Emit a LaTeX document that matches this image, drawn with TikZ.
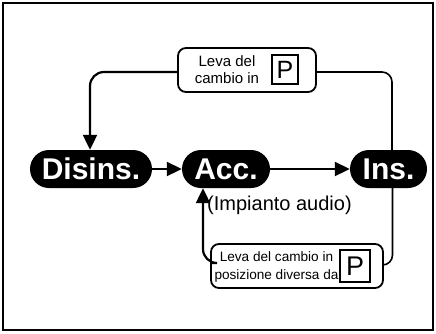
\documentclass[tikz,border=0pt]{standalone}
\usepackage{fontspec}
\setmainfont{Liberation Sans}
\usetikzlibrary{arrows.meta}
\tikzset{
  pill/.style={fill=black, text=white, rounded corners=19pt, minimum height=38pt, inner sep=0pt,
    font=\fontsize{30}{30}\selectfont\bfseries},
  labbox/.style={draw, line width=1.8pt, rounded corners=8pt, minimum height=44pt, inner sep=0pt},
  pbox/.style={draw, line width=1.6pt, inner sep=0pt},
  conn/.style={line width=2.2pt, rounded corners=14pt},
  connr/.style={line width=1.6pt, rounded corners=10pt},
  tip/.style={-{Triangle[length=15pt,width=14pt]}}
}
\begin{document}
\begin{tikzpicture}[x=1pt,y=-1pt]
\useasboundingbox (0,0) rectangle (436,333);
\draw[line width=2pt] (3,3) rectangle (433,330);

\node[pill, minimum width=122pt] (dis) at (91,169) {Disins.};
\node[pill, minimum width=88pt] (acc) at (226,169) {Acc.};
\node[pill, minimum width=77pt] (ins) at (388.5,169) {Ins.};

\node[labbox, minimum width=138pt] (top) at (247,70) {};
\node[align=center, inner sep=0pt, font=\fontsize{15}{17}\selectfont] (toptxt) at (227,70) {Leva del\\cambio in};
\node[pbox, minimum width=26pt, minimum height=29pt, font=\fontsize{25}{25}\selectfont] (p1) at (285,69.5) {P};

\node[labbox, minimum width=172pt] (bot) at (297,266) {};
\node[align=center, inner sep=0pt, font=\fontsize{13.6}{17.5}\selectfont] (bottxt) at (276.5,267) {Leva del cambio in\\posizione diversa da};
\node[pbox, minimum width=30pt, minimum height=32pt, font=\fontsize{27}{27}\selectfont] (p2) at (355,266) {P};

\node[anchor=west, inner sep=0pt, font=\fontsize{20}{20}\selectfont] (audio) at (207,205) {(Impianto audio)};

\draw[line width=2pt, tip] (dis.east) -- (acc.west);
\draw[line width=2pt, tip] (acc.east) -- (ins.west);

\draw[conn, tip] ([yshift=-2pt]top.west) -| ([xshift=-1pt]dis.north);
\draw[connr] ([yshift=-2pt]top.east) -| ([xshift=3.5pt]ins.north);
\draw[conn, tip] ([yshift=3pt]bot.west) -| ([xshift=-23pt]acc.south);
\draw[connr] ([yshift=1pt]bot.east) -| ([xshift=4pt]ins.south);
\end{tikzpicture}
\end{document}
